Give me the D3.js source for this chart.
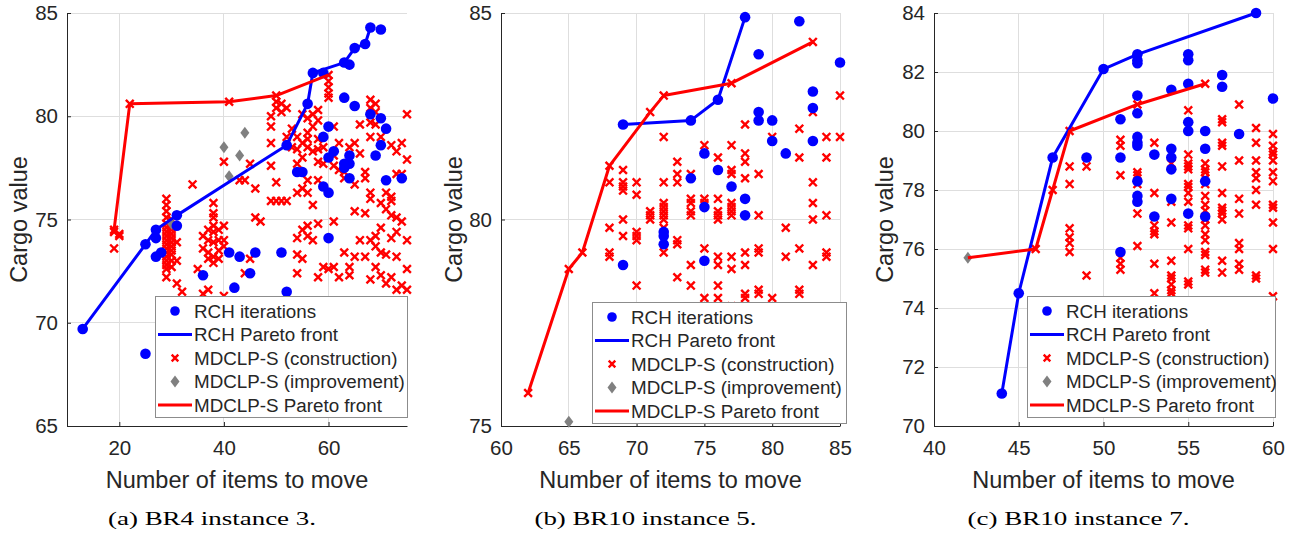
<!DOCTYPE html>
<html>
<head>
<meta charset="utf-8">
<script src="https://cdn.jsdelivr.net/npm/d3@7"></script>
<style>
  body { margin: 0; background: #fff; }
  svg { display: block; }
</style>
</head>
<body>
<svg id="fig" width="1293" height="534"></svg>
<script>
// ---- (a) BR4 instance 3 ----
const rchIterA = [[13,69.7],[25,73.8],[27,74.5],[31,75.2],[52,78.6],[56,80.6],[57,82.1],[59,82.1],[63,82.6],[64,82.5],
  [65,83.3],[67,83.5],[68,84.3],[70,84.2],[27,74.1],[27,73.2],[28,73.4],[31,74.7],[25,68.5],[36,72.3],[41,73.4],
  [43,73.2],[46,73.4],[45,72.4],[42,71.7],[51,73.4],[52,71.5],[54,77.3],[55,77.3],[59,76.6],[60,76.3],[60,79.5],
  [59,79.0],[60,78.0],[61,78.3],[60,74.1],[63,80.9],[65,80.5],[63,77.7],[64,77.7],[63,77.5],[64,78.1],[64,77.0],
  [68,80.1],[70,79.9],[71,79.4],[70,78.6],[69,78.1],[71,76.9],[74,77.0]];
const rchFrontA = [[13,69.7],[25,73.8],[27,74.5],[31,75.2],[52,78.6],[56,80.6],[57,82.1],[63,82.6],[65,83.3],[67,83.5],[68,84.3]];
const mdclpConsA = [[19,74.5],[22,80.6],[41,80.7],[50,81.0],[60,82.0],
  [20,74.3],[19,74.4],[19,73.6],[20,74.2],
  [29,76.0],[29,75.7],[29,75.4],[29,75.1],[29,74.8],[29,74.6],[29,74.4],[29,74.2],[29,74.0],[29,73.8],[29,73.6],
  [29,73.4],[29,73.2],[29,73.0],[29,72.8],[29,72.6],[29,72.2],
  [30,75.0],[30,74.7],[30,74.5],[30,74.3],[30,74.1],[30,73.9],[30,73.7],[30,73.5],[30,73.3],[30,73.0],[30,72.7],
  [31,73.9],[31,73.0],[31,71.9],[32,71.5],[34,76.7],[35,72.6],
  [36,74.2],[36,73.6],[36,71.4],[37,74.5],[37,74.0],[37,73.4],[37,73.1],[37,71.6],
  [38,75.8],[38,75.3],[38,75.1],[38,74.4],[38,73.9],[38,73.2],[38,72.9],[38,74.7],
  [39,74.0],[39,73.5],[39,73.1],[39,74.5],[40,77.8],[40,74.7],[40,74.0],[40,73.7],[40,71.3],
  [43,76.9],[44,76.9],[44,72.4],[45,77.7],[45,73.1],[46,76.5],[46,75.1],[47,74.9],
  [49,80.0],[49,79.5],[49,78.7],[49,77.6],[49,75.9],[50,80.7],[50,80.4],[50,76.8],[50,75.9],
  [51,80.6],[51,80.2],[51,75.9],[52,80.4],[52,75.9],[52,79.0],[53,79.4],[53,78.5],
  [54,79.0],[54,78.4],[54,77.7],[54,76.3],[54,74.1],[54,73.3],[54,72.4],
  [55,80.1],[55,78.7],[55,78.0],[55,76.5],[55,74.5],[55,73.1],
  [56,79.9],[56,79.2],[56,78.9],[56,78.5],[56,76.3],[56,76.9],[56,74.2],[56,74.7],
  [57,80.1],[57,79.5],[57,78.3],[57,75.7],[57,74.0],
  [58,80.3],[58,79.8],[58,78.9],[58,78.4],[58,77.8],[58,76.9],[58,74.8],[58,72.2],
  [59,78.5],[59,77.7],[59,72.7],[60,81.7],[60,81.4],[60,81.1],[60,80.9],[60,72.6],
  [61,79.5],[61,78.1],[61,74.9],[61,72.7],[61,77.6],[62,78.7],[62,77.4],[62,72.2],
  [63,77.3],[63,77.0],[63,73.4],[64,78.5],[64,72.7],[64,72.3],[65,78.7],[65,76.7],[65,73.2],[65,75.4],
  [66,79.6],[66,78.2],[66,74.0],[67,77.3],[67,77.0],[67,73.2],[67,75.3],
  [68,80.8],[68,80.4],[68,79.7],[68,79.0],[68,76.3],[68,76.0],[68,74.0],[68,72.1],
  [69,80.6],[69,80.2],[69,79.6],[69,74.2],[69,73.7],[69,72.7],
  [70,79.0],[70,75.8],[70,74.6],[70,73.4],[70,72.3],[71,76.3],[71,75.5],[71,73.3],[71,71.9],
  [72,78.6],[72,76.1],[72,75.9],[72,75.2],[72,74.1],[72,72.2],
  [73,78.3],[73,77.2],[73,75.1],[73,74.4],[73,73.2],[73,71.6],[74,78.7],[74,77.2],[74,74.9],[74,71.8],
  [75,80.1],[75,77.9],[75,74.0],[75,72.6],[75,71.6]];
const mdclpImpA = [[40,78.5],[44,79.2],[43,78.1],[41,77.1],[30,74.8]];
const mdclpFrontA = [[19,74.5],[22,80.6],[41,80.7],[50,81.0],[60,82.0]];

// ---- (b) BR10 instance 5 ----
const rchIterB = [[69,82.3],[74,82.4],[76,82.9],[78,84.9],[82,84.8],[79,84.0],[85,83.8],[83,83.1],[83,82.7],[79,82.6],
  [79,82.4],[80,82.4],[80,81.9],[81,81.6],[83,81.9],[75,81.6],[76,81.2],[74,81.0],[77,80.8],[78,80.5],[78,80.1],
  [75,80.3],[72,79.7],[72,79.6],[72,79.4],[69,78.9],[75,79.0]];
const rchFrontB = [[69,82.3],[74,82.4],[76,82.9],[78,84.9]];
const mdclpConsB = [[62,75.8],[65,78.8],[66,79.2],[68,81.3],[71,82.6],[72,83.0],[77,83.3],[83,84.3],
  [68,80.9],[68,79.8],[68,79.2],[68,79.1],
  [69,81.2],[69,80.9],[69,80.8],[69,80.7],[69,80.0],[69,79.6],
  [70,80.9],[70,80.6],[70,79.7],[70,79.6],[70,79.5],[70,78.4],[71,80.2],[71,80.1],[71,80.0],
  [72,82.0],[72,80.9],[72,80.4],[72,80.3],[72,80.2],[72,80.1],[72,80.0],[72,79.8],[72,79.2],
  [73,81.4],[73,81.1],[73,80.9],[73,79.5],[73,79.4],[73,78.6],
  [74,81.1],[74,80.5],[74,80.4],[74,80.2],[74,80.1],[74,78.9],[74,78.4],
  [75,81.8],[75,80.5],[75,80.4],[75,79.3],[75,78.1],[75,77.7],
  [76,81.5],[76,80.5],[76,80.2],[76,80.1],[76,80.0],[76,79.1],[76,78.9],[76,78.4],[76,78.1],[76,77.9],
  [77,81.8],[77,81.2],[77,81.1],[77,80.4],[77,80.3],[77,80.2],[77,80.1],[77,79.1],[77,78.8],[77,77.9],
  [78,82.3],[78,81.6],[78,81.4],[78,81.0],[78,79.2],[78,78.9],[78,78.2],[78,78.1],
  [79,81.1],[79,80.1],[79,79.3],[79,79.2],[79,78.3],[79,78.2],[80,82.0],[80,78.1],[81,79.8],[81,79.1],
  [82,82.2],[82,81.5],[82,79.3],[82,78.3],[82,78.2],
  [83,82.6],[83,80.9],[83,80.4],[83,80.0],[83,78.9],[84,82.0],[84,81.5],[84,80.1],[84,79.2],[84,79.1],
  [85,83.0],[85,82.0]];
const mdclpImpB = [[65,75.1]];
const mdclpFrontB = [[62,75.8],[65,78.8],[66,79.2],[68,81.3],[71,82.6],[72,83.0],[77,83.3],[83,84.3]];

// ---- (c) BR10 instance 7 ----
const rchIterC = [[44,71.1],[45,74.5],[47,79.1],[50,82.1],[52,82.6],[59,84.0],[52,82.4],[52,82.3],[52,81.2],[52,80.6],
  [52,79.8],[52,79.6],[52,79.5],[52,78.3],[52,77.8],[52,77.6],[51,80.4],[51,79.1],[51,75.9],[49,79.1],[53,79.2],
  [53,77.1],[54,81.4],[54,79.4],[54,79.1],[54,78.7],[54,77.7],[55,82.6],[55,82.4],[55,81.6],[55,80.3],[55,80.0],
  [55,77.2],[56,80.0],[56,79.4],[56,78.3],[56,77.1],[57,81.9],[57,81.5],[58,79.9],[60,81.1]];
const rchFrontC = [[44,71.1],[45,74.5],[47,79.1],[50,82.1],[52,82.6],[59,84.0]];
const mdclpConsC = [[46,76.0],[47,78.0],[48,80.0],[52,80.9],[56,81.6],
  [48,78.8],[48,78.2],[48,76.7],[48,76.4],[48,76.2],[48,75.9],[49,78.8],[49,75.1],
  [51,79.7],[51,79.5],[51,78.5],[51,75.7],[51,75.5],[51,75.3],
  [52,78.6],[52,78.5],[52,78.2],[52,77.2],[52,76.1],
  [53,79.6],[53,77.9],[53,76.8],[53,76.6],[53,76.5],[53,75.5],[53,74.5],
  [54,78.9],[54,77.6],[54,76.9],[54,75.6],[54,75.1],[54,75.0],[54,74.8],[54,74.6],[54,74.5],
  [55,80.7],[55,79.2],[55,78.9],[55,78.8],[55,78.7],[55,78.2],[55,78.1],[55,77.9],[55,77.6],[55,76.8],
  [55,76.7],[55,76.0],[55,74.9],[55,74.8],
  [56,78.9],[56,78.7],[56,78.6],[56,78.4],[56,78.2],[56,77.8],[56,77.5],[56,77.3],[56,77.0],[56,76.8],
  [56,76.5],[56,76.3],[56,75.9],[56,75.8],[56,75.3],[56,75.2],
  [57,80.4],[57,80.3],[57,79.6],[57,79.5],[57,78.8],[57,77.9],[57,77.4],[57,77.3],[57,77.2],[57,77.0],
  [57,75.6],[57,75.2],
  [58,80.9],[58,79.0],[58,77.7],[58,77.2],[58,76.2],[58,76.0],[58,75.5],[58,75.3],
  [59,80.1],[59,79.6],[59,79.0],[59,78.6],[59,78.4],[59,78.0],[59,77.5],[59,75.1],[59,75.0],
  [60,79.9],[60,79.5],[60,79.3],[60,79.2],[60,79.0],[60,78.6],[60,78.3],[60,77.5],[60,77.4],[60,76.9],
  [60,76.0],[60,74.4]];
const mdclpImpC = [[42,75.7]];
const mdclpFrontC = [[42,75.7],[46,76.0],[47,78.0],[48,80.0],[52,80.9],[56,81.6]];

// ---- ticks, labels ----
const xTicksA = [20, 40, 60], yTicksA = [65, 70, 75, 80, 85];
const xTicksB = [60, 65, 70, 75, 80, 85], yTicksB = [75, 80, 85];
const xTicksC = [40, 45, 50, 55, 60], yTicksC = [70, 72, 74, 76, 78, 80, 82, 84];
const legendLabels = ["RCH iterations", "RCH Pareto front", "MDCLP-S (construction)",
  "MDCLP-S (improvement)", "MDCLP-S Pareto front"];
const captions = ["(a) BR4 instance 3.", "(b) BR10 instance 5.", "(c) BR10 instance 7."];

const BLUE = "#0000ff", RED = "#ff0000", GREY = "#808080", INK = "#262626", GRID = "#dedede";
const SANS = "'Liberation Sans', Arial, Helvetica, sans-serif";

const svg = d3.select("#fig");

const panels = [
  { x0: 67, x1: 407, xd: [10, 75], yd: [65, 85], xt: xTicksA, yt: yTicksA,
    iter: rchIterA, front: rchFrontA, cons: mdclpConsA, imp: mdclpImpA, mfront: mdclpFrontA,
    ylabX: 27, leg: { x: 155, y: 296, w: 252, h: 121 }, cap: captions[0], capW: 208 },
  { x0: 501, x1: 840, xd: [60, 85], yd: [75, 85], xt: xTicksB, yt: yTicksB,
    iter: rchIterB, front: rchFrontB, cons: mdclpConsB, imp: mdclpImpB, mfront: mdclpFrontB,
    ylabX: 462, leg: { x: 592, y: 302, w: 254, h: 121 }, cap: captions[1], capW: 222 },
  { x0: 934, x1: 1273, xd: [40, 60], yd: [70, 84], xt: xTicksC, yt: yTicksC,
    iter: rchIterC, front: rchFrontC, cons: mdclpConsC, imp: mdclpImpC, mfront: mdclpFrontC,
    ylabX: 893, leg: { x: 1027, y: 296, w: 248, h: 121 }, cap: captions[2], capW: 222 }
];

const Y0 = 13, Y1 = 426;
const xMark = "M-3.9,-3.9L3.9,3.9M-3.9,3.9L3.9,-3.9";
const diamond = "M0,-6L4.5,0L0,6L-4.5,0Z";

panels.forEach(p => {
  const x = d3.scaleLinear().domain(p.xd).range([p.x0, p.x1]);
  const y = d3.scaleLinear().domain(p.yd).range([Y1, Y0]);
  const g = svg.append("g");

  // grid
  g.append("g").selectAll("line").data(p.xt).join("line")
    .attr("x1", d => x(d)).attr("x2", d => x(d)).attr("y1", Y0).attr("y2", Y1)
    .attr("stroke", GRID).attr("stroke-width", 1).attr("shape-rendering", "crispEdges");
  g.append("g").selectAll("line").data(p.yt).join("line")
    .attr("x1", p.x0).attr("x2", p.x1).attr("y1", d => y(d)).attr("y2", d => y(d))
    .attr("stroke", GRID).attr("stroke-width", 1).attr("shape-rendering", "crispEdges");

  // axes (ticks inward, MATLAB style)
  const ax = g.append("g").attr("transform", `translate(0,${Y1})`)
    .call(d3.axisBottom(x).tickValues(p.xt).tickSizeInner(-4).tickSizeOuter(0).tickPadding(14));
  const ay = g.append("g").attr("transform", `translate(${p.x0},0)`)
    .call(d3.axisLeft(y).tickValues(p.yt).tickSizeInner(-4).tickSizeOuter(0).tickPadding(9));
  [ax, ay].forEach(a => {
    a.select(".domain").attr("stroke", INK);
    a.selectAll(".tick line").attr("stroke", INK);
    a.selectAll("text").attr("fill", INK).style("font-family", SANS).style("font-size", "20.5px");
  });
  ax.selectAll("text").attr("dy", "0.71em");

  // axis titles
  g.append("text").attr("x", (p.x0 + p.x1) / 2).attr("y", 488)
    .attr("text-anchor", "middle").attr("fill", INK)
    .style("font-family", SANS).style("font-size", "23.5px")
    .text("Number of items to move");
  g.append("text").attr("transform", `translate(${p.ylabX},${(Y0 + Y1) / 2}) rotate(-90)`)
    .attr("text-anchor", "middle").attr("fill", INK)
    .style("font-family", SANS).style("font-size", "23.5px")
    .text("Cargo value");

  // marks
  const line = d3.line().x(d => x(d[0])).y(d => y(d[1]));
  g.append("g").selectAll("path").data(p.cons).join("path")
    .attr("transform", d => `translate(${x(d[0])},${y(d[1])})`)
    .attr("d", xMark).attr("stroke", RED).attr("stroke-width", 2.4).attr("fill", "none");
  g.append("g").selectAll("path").data(p.imp).join("path")
    .attr("transform", d => `translate(${x(d[0])},${y(d[1])})`)
    .attr("d", diamond).attr("fill", GREY);
  g.append("g").selectAll("circle").data(p.iter).join("circle")
    .attr("cx", d => x(d[0])).attr("cy", d => y(d[1])).attr("r", 5.3).attr("fill", BLUE);
  g.append("path").datum(p.front).attr("d", line)
    .attr("fill", "none").attr("stroke", BLUE).attr("stroke-width", 3).attr("stroke-linejoin", "round");
  g.append("path").datum(p.mfront).attr("d", line)
    .attr("fill", "none").attr("stroke", RED).attr("stroke-width", 3).attr("stroke-linejoin", "round");

  // legend
  const L = p.leg;
  const lg = g.append("g").attr("transform", `translate(${L.x},${L.y})`);
  lg.append("rect").attr("x", 0.5).attr("y", 0.5).attr("width", L.w).attr("height", L.h)
    .attr("fill", "#fff").attr("stroke", "#8c8c8c").attr("stroke-width", 1);
  const rowY = i => 15 + i * 23.5;
  const mx = 20, tx = 39;
  lg.append("circle").attr("cx", mx).attr("cy", rowY(0)).attr("r", 4.8).attr("fill", BLUE);
  lg.append("line").attr("x1", 3).attr("x2", 37).attr("y1", rowY(1)).attr("y2", rowY(1))
    .attr("stroke", BLUE).attr("stroke-width", 3);
  lg.append("path").attr("transform", `translate(${mx},${rowY(2)})`).attr("d", "M-3.3,-3.3L3.3,3.3M-3.3,3.3L3.3,-3.3")
    .attr("stroke", RED).attr("stroke-width", 2.4);
  lg.append("path").attr("transform", `translate(${mx},${rowY(3)})`).attr("d", diamond).attr("fill", GREY);
  lg.append("line").attr("x1", 3).attr("x2", 37).attr("y1", rowY(4)).attr("y2", rowY(4))
    .attr("stroke", RED).attr("stroke-width", 3);
  lg.selectAll("text.lab").data(legendLabels).join("text").attr("class", "lab")
    .attr("x", tx).attr("y", (d, i) => rowY(i)).attr("dy", "0.35em").attr("fill", INK)
    .style("font-family", SANS).style("font-size", "18.8px").text(d => d);

  // caption
  g.append("text").attr("x", (p.x0 + p.x1) / 2 - 25).attr("y", 525)
    .attr("text-anchor", "middle").attr("fill", "#000")
    .attr("textLength", p.capW).attr("lengthAdjust", "spacingAndGlyphs")
    .style("font-family", "'Liberation Serif', 'Times New Roman', serif").style("font-size", "19px")
    .text(p.cap);
});
</script>
</body>
</html>
